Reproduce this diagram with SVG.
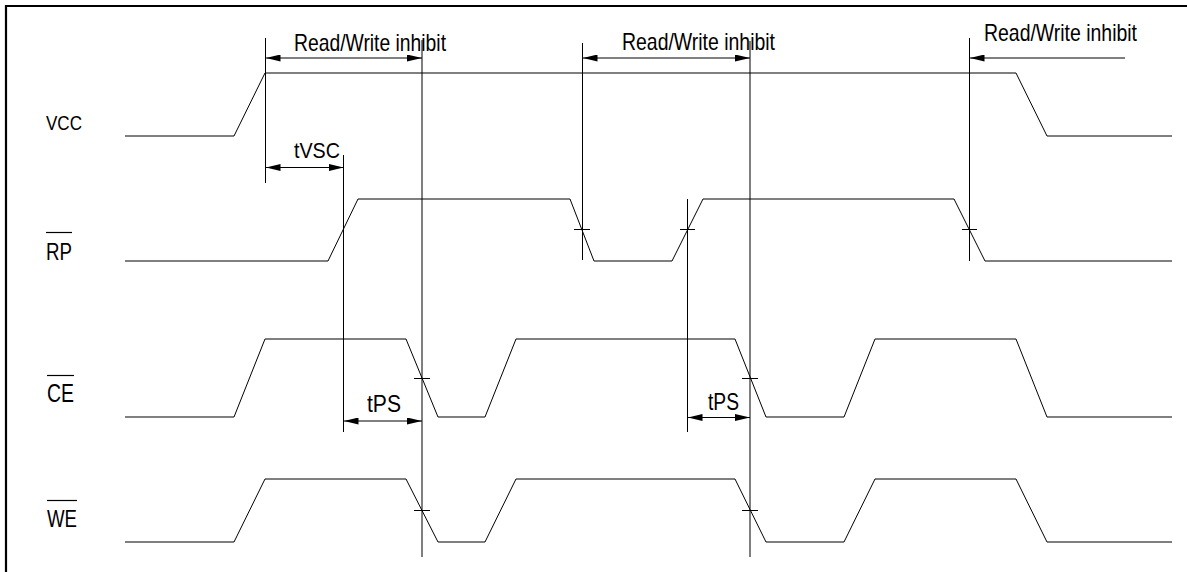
<svg xmlns="http://www.w3.org/2000/svg" width="1187" height="572" viewBox="0 0 1187 572">
<style>
.sig{fill:none;stroke:#000;stroke-width:1;stroke-linejoin:miter}
.ext{fill:none;stroke:#000;stroke-width:1}
.dim{fill:none;stroke:#000;stroke-width:1}
.tick{fill:none;stroke:#000;stroke-width:1}
.lbl{font-family:"Liberation Sans",Arial,sans-serif;fill:#000}
.ovl{stroke:#000;stroke-width:1.2}
</style>
<defs>
<marker id="arr" viewBox="0 0 15 7" refX="15" refY="3.5" markerWidth="15" markerHeight="7" markerUnits="userSpaceOnUse" orient="auto-start-reverse">
<path d="M0,0 L15,3.5 L0,7 z" fill="#000"/>
</marker>
</defs>
<rect width="1187" height="572" fill="#fff"/>
<g id="frame">
<path d="M6,573 L6,6 L1188,6" fill="none" stroke="#000" stroke-width="2.2"/>
</g>
<g id="vcc">
<text class="lbl" x="46" y="130" font-size="21" textLength="36" lengthAdjust="spacingAndGlyphs">VCC</text>
<polyline class="sig" points="125,136 234,136 265,73 1016,73 1047,136 1172,136"/>
</g>
<g id="rp">
<line class="ovl" x1="46" y1="232.5" x2="72" y2="232.5"/>
<text class="lbl" x="46" y="260" font-size="24" textLength="26" lengthAdjust="spacingAndGlyphs">RP</text>
<polyline class="sig" points="125,261 328,261 358,199 570,199 594,261 672,261 703,199 954,199 985,261 1172,261"/>
</g>
<g id="ce">
<line class="ovl" x1="47" y1="375.5" x2="74" y2="375.5"/>
<text class="lbl" x="47" y="402" font-size="25" textLength="27" lengthAdjust="spacingAndGlyphs">CE</text>
<polyline class="sig" points="125,417 234,417 265,339 406,339 438,417 485,417 516,339 735,339 766,417 844,417 875,339 1016,339 1047,417 1172,417"/>
</g>
<g id="we">
<line class="ovl" x1="47" y1="500.5" x2="77" y2="500.5"/>
<text class="lbl" x="47" y="527" font-size="24" textLength="30" lengthAdjust="spacingAndGlyphs">WE</text>
<polyline class="sig" points="125,542 234,542 265,479 406,479 438,542 485,542 516,479 735,479 766,542 844,542 875,479 1016,479 1047,542 1172,542"/>
</g>
<g id="connectors">
<line class="ext" x1="265.5" y1="38" x2="265.5" y2="183"/>
<line class="ext" x1="422" y1="40" x2="422" y2="290"/>
<line class="ext" x1="422" y1="290" x2="422" y2="557" stroke-width="1.6"/>
<line class="ext" x1="582.5" y1="43" x2="582.5" y2="260"/>
<line class="ext" x1="750" y1="41" x2="750" y2="290"/>
<line class="ext" x1="750" y1="290" x2="750" y2="557" stroke-width="1.6"/>
<line class="ext" x1="969.5" y1="38" x2="969.5" y2="261"/>
<line class="ext" x1="343.5" y1="155" x2="343.5" y2="432"/>
<line class="ext" x1="687.5" y1="199" x2="687.5" y2="432"/>
<line class="dim" x1="265.5" y1="58" x2="422" y2="58" marker-start="url(#arr)" marker-end="url(#arr)"/>
<line class="dim" x1="582.5" y1="58" x2="750" y2="58" marker-start="url(#arr)" marker-end="url(#arr)"/>
<line class="dim" x1="969.5" y1="58" x2="1125" y2="58" marker-start="url(#arr)"/>
<line class="dim" x1="265.5" y1="167.5" x2="343.5" y2="167.5" marker-start="url(#arr)" marker-end="url(#arr)"/>
<line class="dim" x1="343.5" y1="421" x2="422" y2="421" marker-start="url(#arr)" marker-end="url(#arr)"/>
<line class="dim" x1="687.5" y1="417.5" x2="750" y2="417.5" marker-start="url(#arr)" marker-end="url(#arr)"/>
<line class="tick" x1="574" y1="229.5" x2="590" y2="229.5"/>
<line class="tick" x1="680" y1="229.5" x2="695" y2="229.5"/>
<line class="tick" x1="962" y1="229.5" x2="977" y2="229.5"/>
<line class="tick" x1="414" y1="378.5" x2="430" y2="378.5"/>
<line class="tick" x1="742" y1="378.5" x2="758" y2="378.5"/>
<line class="tick" x1="414" y1="510.5" x2="430" y2="510.5"/>
<line class="tick" x1="742" y1="510.5" x2="758" y2="510.5"/>
<text class="lbl" x="294" y="51" font-size="24" textLength="152" lengthAdjust="spacingAndGlyphs">Read/Write inhibit</text>
<text class="lbl" x="622" y="50" font-size="24" textLength="153" lengthAdjust="spacingAndGlyphs">Read/Write inhibit</text>
<text class="lbl" x="984" y="41" font-size="24" textLength="153" lengthAdjust="spacingAndGlyphs">Read/Write inhibit</text>
<text class="lbl" x="294" y="158" font-size="22" textLength="46" lengthAdjust="spacingAndGlyphs">tVSC</text>
<text class="lbl" x="367" y="412" font-size="24" textLength="34" lengthAdjust="spacingAndGlyphs">tPS</text>
<text class="lbl" x="708" y="410" font-size="24" textLength="31" lengthAdjust="spacingAndGlyphs">tPS</text>
</g>
</svg>
